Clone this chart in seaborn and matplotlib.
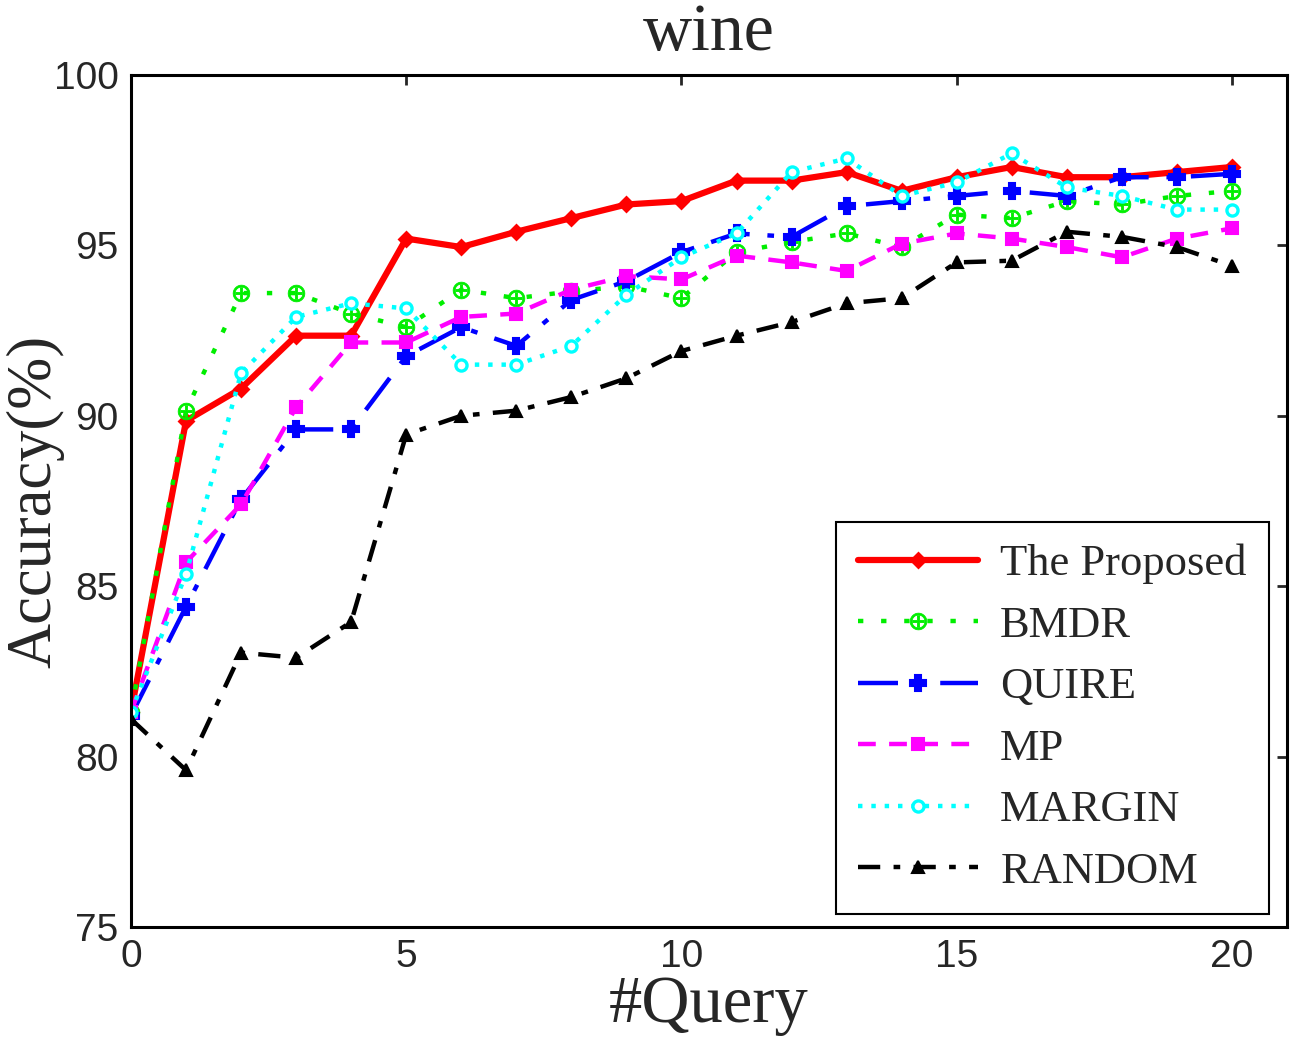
import numpy as np
import pandas as pd
import seaborn as sns
import matplotlib.pyplot as plt

# data
queries = list(range(0, 21))
proposed = [81.3, 89.85, 90.8, 92.35, 92.35, 95.2, 94.95, 95.4, 95.8, 96.2, 96.3,
            96.9, 96.9, 97.15, 96.6, 97.0, 97.3, 97.0, 97.0, 97.15, 97.3]
bmdr = [81.3, 90.15, 93.6, 93.6, 93.0, 92.6, 93.7, 93.45, 93.65, 93.8, 93.45,
        94.8, 95.1, 95.35, 94.95, 95.9, 95.8, 96.3, 96.2, 96.45, 96.6]
quire = [81.2, 84.4, 87.55, 89.6, 89.6, 91.75, 92.6, 92.05, 93.4, 93.95, 94.8,
         95.35, 95.25, 96.15, 96.3, 96.45, 96.6, 96.45, 97.0, 97.0, 97.1]
mp = [81.3, 85.7, 87.4, 90.25, 92.15, 92.15, 92.9, 93.0, 93.7, 94.1, 94.0,
      94.7, 94.5, 94.25, 95.05, 95.35, 95.2, 94.95, 94.65, 95.2, 95.5]
margin = [81.3, 85.35, 91.25, 92.9, 93.3, 93.15, 91.5, 91.5, 92.05, 93.55, 94.65,
          95.35, 97.15, 97.55, 96.45, 96.85, 97.7, 96.7, 96.45, 96.05, 96.05]
random_ = [81.1, 79.6, 83.05, 82.9, 83.95, 89.45, 90.0, 90.15, 90.55, 91.1, 91.9,
           92.35, 92.75, 93.3, 93.45, 94.5, 94.55, 95.4, 95.25, 94.95, 94.4]

names = ['The Proposed', 'BMDR', 'QUIRE', 'MP', 'MARGIN', 'RANDOM']
series = [proposed, bmdr, quire, mp, margin, random_]

# style per method: color, marker, linestyle, linewidth, markersize, face
styles = {
    'The Proposed': dict(color='#ff0000', marker='D', linestyle='-', lw=4.5, ms=7, mfc='#ff0000', mew=2),
    'BMDR': dict(color='#00ee00', marker=r'$\oplus$', linestyle=(0, (1.2, 4)), lw=3.2, ms=12, mfc='#00ee00', mew=0.6),
    'QUIRE': dict(color='#0000ff', marker='P', linestyle=(0, (9, 4, 1.5, 4)), lw=3.2, ms=11, mfc='#0000ff', mew=1.5),
    'MP': dict(color='#ff00ff', marker='s', linestyle=(0, (4, 3)), lw=3.2, ms=8, mfc='#ff00ff', mew=1.5),
    'MARGIN': dict(color='#00ffff', marker='o', linestyle=(0, (1, 2)), lw=3.2, ms=8, mfc='white', mew=2.4),
    'RANDOM': dict(color='black', marker='^', linestyle=(0, (5, 3, 1.5, 3)), lw=3.2, ms=9, mfc='black', mew=1.5),
}

sns.set_style('white')

fig = plt.figure(figsize=(13.07, 10.56), dpi=100)
ax = fig.add_axes([0.1002, 0.1222, 0.8845, 0.8068])

for name, vals in zip(names, series):
    st = styles[name]
    df = pd.DataFrame({'query': queries, 'acc': vals})
    sns.lineplot(data=df, x='query', y='acc', ax=ax, label=name,
                 color=st['color'], marker=st['marker'], linestyle=st['linestyle'],
                 linewidth=st['lw'], markersize=st['ms'], markerfacecolor=st['mfc'],
                 markeredgecolor=st['color'], markeredgewidth=st['mew'])

ax.set_xlim(0, 21)
ax.set_ylim(75, 100)
ax.set_xticks([0, 5, 10, 15, 20])
ax.set_yticks([75, 80, 85, 90, 95, 100])
ax.tick_params(axis='both', which='both', direction='in', length=7, width=2,
               top=True, right=True, labelsize=28, pad=9)
for lab in ax.get_xticklabels() + ax.get_yticklabels():
    lab.set_family('Liberation Sans')
for sp in ax.spines.values():
    sp.set_linewidth(2.2)
    sp.set_color('black')

ax.set_xlabel('#Query', family='Liberation Serif', fontsize=48, labelpad=0)
ax.set_ylabel('Accuracy(%)', family='Liberation Serif', fontsize=45)
ax.yaxis.set_label_coords(-0.058, 0.5)
ax.set_title('wine', family='Liberation Serif', fontsize=49, pad=18)

leg = ax.legend(loc='lower right', bbox_to_anchor=(0.9844, 0.0153), borderaxespad=0,
                prop={'family': 'Liberation Serif', 'size': 32},
                frameon=True, fancybox=False, handlelength=2.7, handletextpad=0.5,
                labelspacing=0.48, borderpad=0.5, framealpha=1)
leg.get_frame().set_edgecolor('black')
leg.get_frame().set_linewidth(1.5)

fig.savefig('out.png', dpi=100)
